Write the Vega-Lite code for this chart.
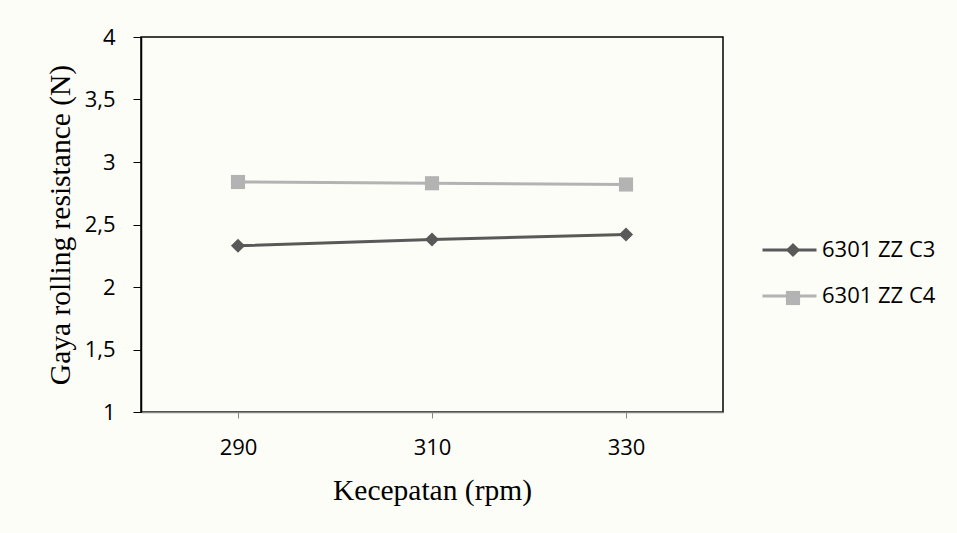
{
  "$schema": "https://vega.github.io/schema/vega-lite/v6.json",
  "width": 582,
  "height": 375,
  "autosize": {"type": "none"},
  "padding": {"left": 141, "top": 37, "right": 234, "bottom": 121},
  "background": "#fdfdf8",
  "config": {
    "view": {"stroke": "#000000", "strokeWidth": 1.5},
    "axis": {"grid": false, "labelFont": "Open Sans", "labelFontSize": 22, "labelColor": "#000000", "titleFont": "Liberation Serif", "titleFontSize": 29.5, "titleFontWeight": "normal", "titleColor": "#000000"},
    "legend": {"labelFont": "Open Sans", "labelFontSize": 22, "labelColor": "#000000", "padding": 0, "title": null}
  },
  "data": {
    "values": [
      {"rpm": "290", "series": "6301 ZZ C3", "force": 2.33},
      {"rpm": "310", "series": "6301 ZZ C3", "force": 2.38},
      {"rpm": "330", "series": "6301 ZZ C3", "force": 2.42},
      {"rpm": "290", "series": "6301 ZZ C4", "force": 2.84},
      {"rpm": "310", "series": "6301 ZZ C4", "force": 2.83},
      {"rpm": "330", "series": "6301 ZZ C4", "force": 2.82}
    ]
  },
  "encoding": {
    "x": {
      "field": "rpm", "type": "ordinal",
      "scale": {"type": "point", "padding": 0.5},
      "axis": {"title": "Kecepatan (rpm)", "labelAngle": 0, "domainColor": "#868686", "domainWidth": 1.5, "tickColor": "#868686", "tickSize": 6, "labelPadding": 19, "titleY": 78, "titleBaseline": "middle"}
    },
    "y": {
      "field": "force", "type": "quantitative",
      "scale": {"domain": [1, 4], "nice": false, "zero": false},
      "axis": {"title": "Gaya rolling resistance (N)", "values": [1, 1.5, 2, 2.5, 3, 3.5, 4], "labelExpr": "replace(toString(datum.value), '.', ',')", "domainColor": "#000000", "domainWidth": 1.5, "tickColor": "#000000", "tickSize": 8, "labelPadding": 18, "titleX": -81, "titleY": 187.5, "titleAngle": -90, "titleAlign": "center", "titleBaseline": "middle"}
    }
  },
  "layer": [
    {
      "mark": {"type": "line", "strokeWidth": 3},
      "encoding": {
        "stroke": {
          "field": "series", "type": "nominal",
          "scale": {"domain": ["6301 ZZ C3", "6301 ZZ C4"], "range": ["#595959", "#b3b3b3"]},
          "legend": {"orient": "none", "legendX": 620, "legendY": 184.5, "title": null, "symbolType": "stroke", "symbolSize": 2916, "symbolStrokeWidth": 3, "labelOffset": 4, "rowPadding": 6}
        }
      }
    },
    {
      "mark": {"type": "point", "filled": true, "size": 200, "opacity": 1},
      "encoding": {
        "fill": {
          "field": "series", "type": "nominal",
          "scale": {"range": ["#595959", "#b3b3b3"]},
          "legend": {"orient": "none", "legendX": 641, "legendY": 202, "title": null, "labelExpr": "''", "rowPadding": 26, "symbolSize": 200}
        },
        "shape": {
          "field": "series", "type": "nominal",
          "scale": {"range": ["diamond", "square"]},
          "legend": {"orient": "none", "legendX": 641, "legendY": 202, "title": null, "labelExpr": "''", "rowPadding": 26, "symbolSize": 200}
        }
      }
    }
  ]
}
